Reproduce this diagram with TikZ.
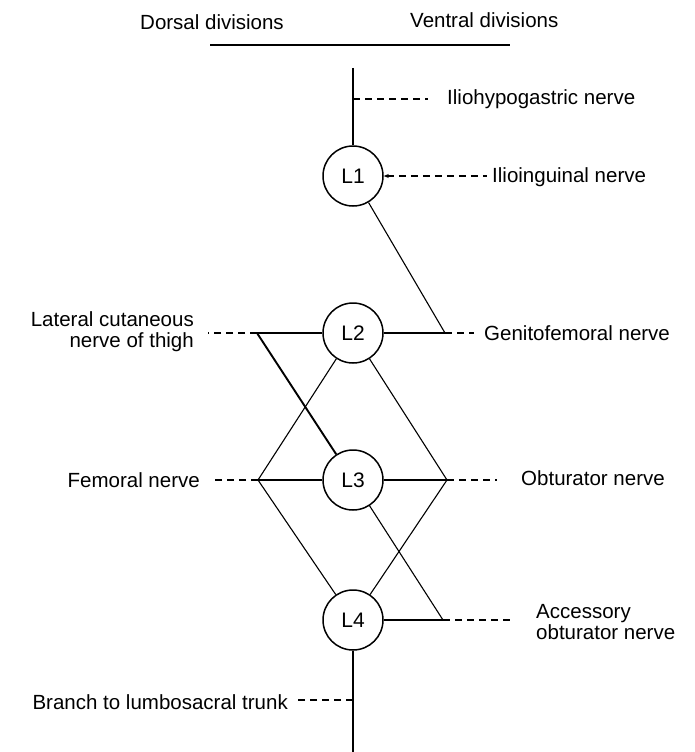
\documentclass[tikz,border=0pt]{standalone}
\usepackage{fontspec}
\setmainfont{Liberation Sans}
\usetikzlibrary{arrows.meta}
\begin{document}
\begin{tikzpicture}[x=1pt,y=-1pt,
  seg/.style={circle,draw,line width=1.5pt,minimum size=60pt,inner sep=0pt,font=\fontsize{21}{22}\selectfont},
  lbl/.style={inner sep=0pt,font=\fontsize{20.5}{21}\selectfont},
  nerve/.style={line width=1.1pt},
  thick nerve/.style={line width=1.9pt},
  leader/.style={line width=1.4pt,dash pattern=on 7pt off 5pt}]
\useasboundingbox (0,0) rectangle (694,752);
% titles
\node[lbl,anchor=west] (dorsal) at (140,22) {Dorsal divisions};
\node[lbl,anchor=west] (ventral) at (410,20) {Ventral divisions};
\coordinate (tl) at (210,45);
\coordinate (tr) at (510,45);
\draw[line width=1.3pt] (tl) -- (tr);
% segments
\node[seg] (L1) at (353,176) {L1};
\node[seg] (L2) at (353,333) {L2};
\node[seg] (L3) at (353,480) {L3};
\node[seg] (L4) at (353,620) {L4};
% junctions
\coordinate (top) at (353,68);
\coordinate (ih) at (353,99);
\coordinate (jg) at (445,333);
\coordinate (jlc) at (257,333);
\coordinate (jf) at (258,480);
\coordinate (jo) at (447,480);
\coordinate (ja) at (443,620);
\coordinate (br) at (353,700);
\coordinate (bot) at (353,752);
% leader ends
\coordinate (ihend) at (428,99);
\coordinate (iiend) at (487,176);
\coordinate (gend) at (474,333);
\coordinate (lcend) at (208,333);
\coordinate (fend) at (212,480);
\coordinate (oend) at (497,480);
\coordinate (aend) at (514,620);
\coordinate (bend) at (297,700);
% labels
\node[lbl,anchor=west] (ihl) at (447,99) {Iliohypogastric nerve};
\node[lbl,anchor=west] (iil) at (492,177) {Ilioinguinal nerve};
\node[lbl,anchor=west] (gl) at (484,333) {Genitofemoral nerve};
\node[lbl,anchor=east,align=right] (lcl) at (194,332) {Lateral cutaneous\\nerve of thigh};
\node[lbl,anchor=east] (fl) at (200,480) {Femoral nerve};
\node[lbl,anchor=west] (ol) at (521,478) {Obturator nerve};
\node[lbl,anchor=west,align=left] (al) at (536,622) {Accessory\\obturator nerve};
\node[lbl,anchor=east] (bl) at (288,702) {Branch to lumbosacral trunk};
% nerve connections
\draw[nerve] (top) -- (L1);
\draw[nerve] (L1) -- (jg);
\draw[nerve] (L2) -- (jg);
\draw[nerve] (L2) -- (jlc);
\draw[thick nerve] (jlc) -- (L3);
\draw[nerve] (L2) -- (jf);
\draw[nerve] (L2) -- (jo);
\draw[nerve] (L3) -- (jf);
\draw[thick nerve] (L3) -- (jo);
\draw[nerve] (jf) -- (L4);
\draw[nerve] (L3) -- (ja);
\draw[nerve] (L4) -- (jo);
\draw[nerve] (L4) -- (ja);
\draw[nerve] (L4) -- (br);
\draw[thick nerve] (br) -- (bot);
% leaders
\draw[leader] (ih) -- (ihend);
\draw[leader,{Stealth[length=5pt,width=4pt]}-] (L1) -- (iiend);
\draw[leader] (jg) -- (gend);
\draw[leader] (jlc) -- (lcend);
\draw[leader] (jf) -- (fend);
\draw[leader] (jo) -- (oend);
\draw[leader] (ja) -- (aend);
\draw[leader] (br) -- (bend);
\end{tikzpicture}
\end{document}
